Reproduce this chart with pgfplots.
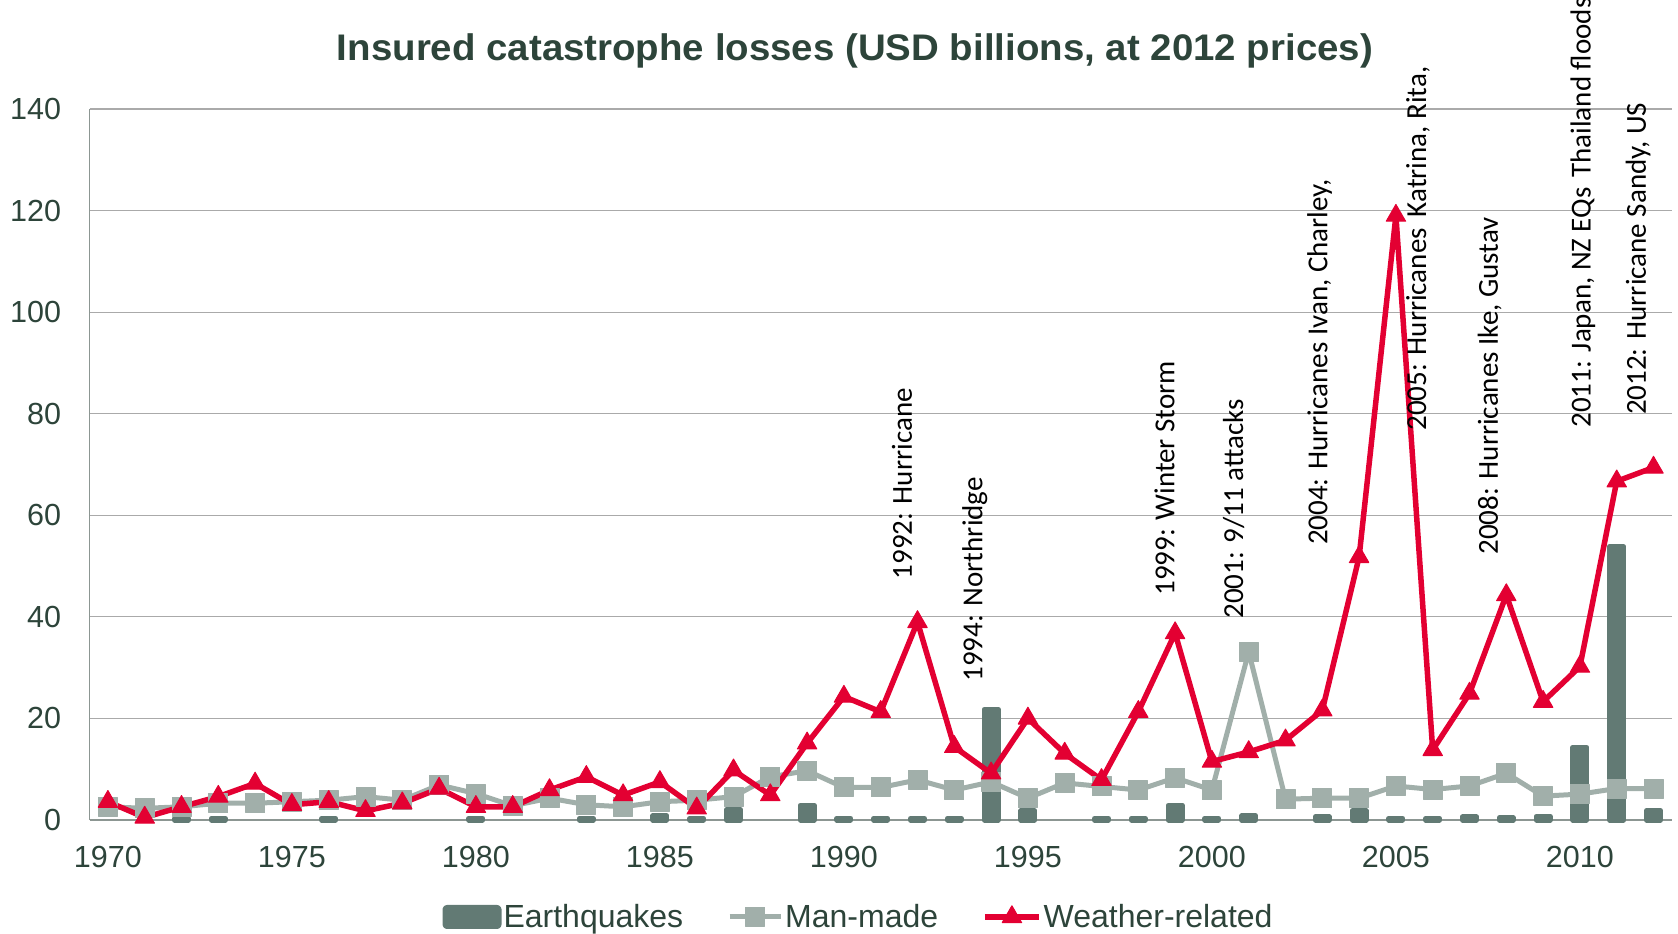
\documentclass[border=0pt]{standalone}
\usepackage{pgfplots}
\pgfplotsset{compat=1.18}
\usepackage{pgfplotstable}
\usepackage{graphicx}
\usepackage{fontspec}
\setmainfont{Liberation Sans}
\newfontfamily\annfont{Carlito}
\definecolor{eqcol}{RGB}{98,122,116}
\definecolor{mmcol}{RGB}{161,175,170}
\definecolor{wrcol}{RGB}{227,0,50}
\definecolor{txtcol}{RGB}{45,68,58}
\definecolor{gridcol}{RGB}{170,170,170}
\definecolor{axcol}{RGB}{140,150,146}

\pgfplotstableread{
year eq mm wr
1970 nan 2.6 3.6
1971 nan 2.3 0.5
1972 0.3 2.6 2.6
1973 0.3 3.3 4.6
1974 nan 3.3 7.2
1975 nan 3.6 3.0
1976 0.3 3.9 3.6
1977 nan 4.6 1.8
1978 nan 3.9 3.3
1979 nan 6.9 6.2
1980 0.3 5.2 2.6
1981 nan 2.8 2.6
1982 nan 4.3 5.9
1983 0.3 3.0 8.5
1984 nan 2.6 4.9
1985 0.8 3.6 7.5
1986 0.3 3.9 2.3
1987 2.0 4.6 9.8
1988 nan 8.5 4.9
1989 2.9 9.7 15.1
1990 0.3 6.4 24.3
1991 0.3 6.4 21.3
1992 0.3 7.9 39.0
1993 0.3 5.9 14.4
1994 21.8 7.5 9.2
1995 1.8 4.3 20.0
1996 nan 7.3 13.1
1997 0.3 6.6 7.9
1998 0.3 5.9 21.3
1999 2.9 8.3 36.8
2000 0.3 5.9 11.5
2001 0.8 33.1 13.4
2002 nan 4.1 15.7
2003 0.6 4.3 21.6
2004 1.8 4.3 51.8
2005 0.3 6.7 119.0
2006 0.3 6.0 13.8
2007 0.6 6.7 24.9
2008 0.4 9.2 44.3
2009 0.7 4.7 23.3
2010 14.3 5.1 30.2
2011 53.8 6.2 66.7
2012 1.8 6.2 69.4
}\lossdata

\begin{document}
\begin{tikzpicture}
\useasboundingbox (0,0) rectangle (839bp,467bp);
\node[text=txtcol, font=\fontsize{18.5bp}{22bp}\selectfont\bfseries, inner sep=0pt] at (427.5bp,441.5bp)
  {\resizebox{518bp}{\height}{Insured catastrophe losses (USD billions, at 2012 prices)}};
\begin{axis}[
  at={(44.75bp,57bp)}, anchor=south west,
  width=791.2bp, height=355.5bp, scale only axis,
  xmin=1969.5, xmax=2012.5, ymin=0, ymax=140,
  xtick={1970,1975,...,2010}, ytick={0,20,...,140},
  axis x line=bottom, axis y line=left,
  axis line style={-, draw=axcol, line width=0.8bp},
  ymajorgrids, grid style={draw=gridcol, line width=0.6bp},
  major tick length=0pt,
  tick label style={font=\fontsize{15.25bp}{18bp}\selectfont, text=txtcol},
  /pgf/number format/assume math mode=true,
  /pgf/number format/1000 sep={},
  xticklabel style={anchor=north, inner sep=0pt, yshift=-13bp},
  yticklabel style={anchor=east, inner sep=0pt, xshift=-14bp},
  clip=false,
  legend style={at={(0.486,-0.1364)}, anchor=center, draw=none, fill=none,
    font=\fontsize{16bp}{19bp}\selectfont, text=txtcol,
    /tikz/every even column/.append style={column sep=21bp},
    nodes={inner sep=1bp}},
  legend columns=3,
  legend cell align=left,
]
\addplot[ybar, bar shift=0pt, bar width=7bp, fill=eqcol, draw=eqcol, line width=2.5bp, line join=round,
  legend image code/.code={\fill[eqcol, rounded corners=1bp] (0bp,-4.75bp) rectangle (27bp,4.75bp);}]
  table[x=year, y=eq] {\lossdata};
\addlegendentry{Earthquakes}
\addplot[color=mmcol, line width=2.5bp, line join=round, mark=square*, mark size=4.75bp,
  mark options={solid, line width=0.5bp, fill=mmcol},
  legend image code/.code={\draw[mmcol, line width=2.5bp, mark=square*, mark size=4.75bp, mark options={solid, line width=0.5bp, fill=mmcol}, mark repeat=2, mark phase=2] plot coordinates {(0bp,0bp) (12.75bp,0bp) (25.5bp,0bp)};}]
  table[x=year, y=mm] {\lossdata};
\addlegendentry{Man-made}
\addplot[color=wrcol, line width=2.75bp, line join=round, mark=triangle*, mark size=5.6bp,
  mark options={solid, line width=0.5bp, fill=wrcol},
  legend image code/.code={\draw[wrcol, line width=2.75bp, mark=triangle*, mark size=5.6bp, mark options={solid, line width=0.5bp, fill=wrcol}, mark repeat=2, mark phase=2] plot coordinates {(0bp,0bp) (13.5bp,0bp) (27bp,0bp)};}]
  table[x=year, y=wr] {\lossdata};
\addlegendentry{Weather-related}

\begin{scope}[every node/.style={rotate=90, anchor=west, inner sep=0pt, text=black,
    font=\annfont\fontsize{14.5bp}{17bp}\selectfont}]
\node at (axis cs:1991.58,47.3) {1992: Hurricane};
\node at (axis cs:1993.56,27.2) {1994: Northridge};
\node at (axis cs:1998.71,44.1) {1999: Winter Storm};
\node at (axis cs:2000.59,39.6) {2001: 9/11 attacks};
\node at (axis cs:2002.93,54.1) {2004: Hurricanes Ivan, Charley,};
\node at (axis cs:2005.60,76.6) {2005: Hurricanes\hspace{5.5bp}Katrina, Rita,};
\node at (axis cs:2007.55,52.2) {2008: Hurricanes Ike, Gustav};
\node at (axis cs:2010.08,77.2) {2011: Japan, NZ EQs\hspace{5bp}Thailand floods};
\node at (axis cs:2011.58,79.7) {2012: Hurricane Sandy, US};
\end{scope}
\end{axis}
\end{tikzpicture}
\end{document}
